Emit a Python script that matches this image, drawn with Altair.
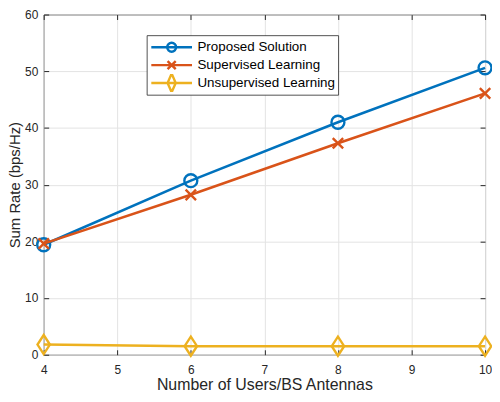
import altair as alt
import pandas as pd

# ---- data ----
users = [4, 6, 8, 10]
series_names = ["Proposed Solution", "Supervised Learning", "Unsupervised Learning"]
proposed = [19.4, 30.7, 41.0, 50.6]
supervised = [19.6, 28.2, 37.3, 46.1]
unsupervised = [1.8, 1.5, 1.5, 1.5]
x_ticks = [4, 5, 6, 7, 8, 9, 10]
y_ticks = [0, 10, 20, 30, 40, 50, 60]
x_title = "Number of Users/BS Antennas"
y_title = "Sum Rate (bps/Hz)"

colors = ["#0072BD", "#D95319", "#EDB120"]
# plot markers: circle, x-cross, diamond
plot_shapes = [
    "circle",
    "M-1,-1L1,1M-1,1L1,-1",
    "M0,-1L0.65,0L0,1L-0.65,0Z",
]
plot_sizes = [170, 110, 370]
# legend symbols: short line + marker (MATLAB style)
legend_shapes = [
    "M-1,0L1,0M-0.22,0A0.22,0.22,0,1,1,0.22,0A0.22,0.22,0,1,1,-0.22,0",
    "M-1,0L1,0M-0.2,-0.2L0.2,0.2M-0.2,0.2L0.2,-0.2",
    "M-1,0L1,0M0,-0.46L0.2,0L0,0.46L-0.2,0Z",
]

rows = []
for name, vals in zip(series_names, [proposed, supervised, unsupervised]):
    for u, v in zip(users, vals):
        rows.append({"users": u, "rate": v, "series": name})
df = pd.DataFrame(rows)

FONT = "Liberation Sans"
TXT = "#262626"

x_scale = alt.Scale(domain=[4, 10], nice=False, zero=False)
y_scale = alt.Scale(domain=[0, 60], nice=False, zero=True)

x_axis_main = alt.Axis(
    orient="bottom", values=x_ticks, grid=True, gridColor="#e3e3e3", gridWidth=1,
    domain=False, ticks=True, tickSize=5, tickColor=TXT, tickWidth=1, offset=-5,
    labelPadding=10, labelFontSize=12, labelColor=TXT, labelFont=FONT, labelFlush=False,
    title=x_title, titleFontSize=16, titleFontWeight="normal", titleColor=TXT,
    titleFont=FONT, titlePadding=1,
)
y_axis_main = alt.Axis(
    orient="left", values=y_ticks, grid=True, gridColor="#e3e3e3", gridWidth=1,
    domain=False, ticks=True, tickSize=5, tickColor=TXT, tickWidth=1, offset=-5,
    labelPadding=6, labelFontSize=12, labelColor=TXT, labelFont=FONT, labelFlush=False,
    title=y_title, titleFontSize=15, titleFontWeight="normal", titleColor=TXT,
    titleFont=FONT, titlePadding=2,
)
x_axis_top = alt.Axis(
    orient="top", values=x_ticks, grid=False, domain=False, labels=False,
    ticks=True, tickSize=5, tickColor=TXT, tickWidth=1, offset=-5, title=None,
)
y_axis_right = alt.Axis(
    orient="right", values=y_ticks, grid=False, domain=False, labels=False,
    ticks=True, tickSize=5, tickColor=TXT, tickWidth=1, offset=-5, title=None,
)

base = alt.Chart(df)
layers = []
for i, name in enumerate(series_names):
    if i == 0:
        xa, ya = x_axis_main, y_axis_main
    elif i == 1:
        xa, ya = x_axis_top, y_axis_right
    else:
        xa, ya = None, None
    line = base.transform_filter(alt.datum.series == name).mark_line(
        color=colors[i], strokeWidth=2.6, clip=False
    ).encode(
        x=alt.X("users:Q", scale=x_scale, axis=xa),
        y=alt.Y("rate:Q", scale=y_scale, axis=ya),
    )
    pts = base.transform_filter(alt.datum.series == name).mark_point(
        shape=plot_shapes[i], size=plot_sizes[i], filled=False,
        color=colors[i], strokeWidth=2.4, opacity=1, clip=False
    ).encode(
        x=alt.X("users:Q", scale=x_scale, axis=None),
        y=alt.Y("rate:Q", scale=y_scale, axis=None),
    )
    layers += [line, pts]

legend_def = alt.Legend(
    title=None, orient="none", legendX=104, legendY=21,
    symbolSize=1681, symbolStrokeWidth=2.4, symbolOpacity=1,
    clipHeight=18, rowPadding=0, symbolOffset=0,
    labelFont=FONT, labelFontSize=13.5, labelColor="#000000", labelOffset=4,
    labelLimit=0, padding=3, strokeColor="#262626",
    fillColor="white",
)
legend_layer = base.mark_point(filled=False, opacity=0, clip=False).encode(
    x=alt.X("users:Q", scale=x_scale, axis=None),
    y=alt.Y("rate:Q", scale=y_scale, axis=None),
    color=alt.Color("series:N", scale=alt.Scale(domain=series_names, range=colors),
                    legend=legend_def),
    shape=alt.Shape("series:N", scale=alt.Scale(domain=series_names, range=legend_shapes),
                    legend=legend_def),
)
layers.append(legend_layer)

chart = alt.layer(*layers).resolve_axis(
    x="independent", y="independent"
).properties(
    width=445, height=343,
    autosize=alt.AutoSizeParams(type="none"),
    padding={"left": 36, "top": 5, "right": 7, "bottom": 38},
    background="white",
).configure_view(
    stroke="#333333", strokeWidth=1
).configure_legend(
    strokeWidth=0.8
)

chart.save("out.html", embed_options={"renderer": "svg", "actions": False})
